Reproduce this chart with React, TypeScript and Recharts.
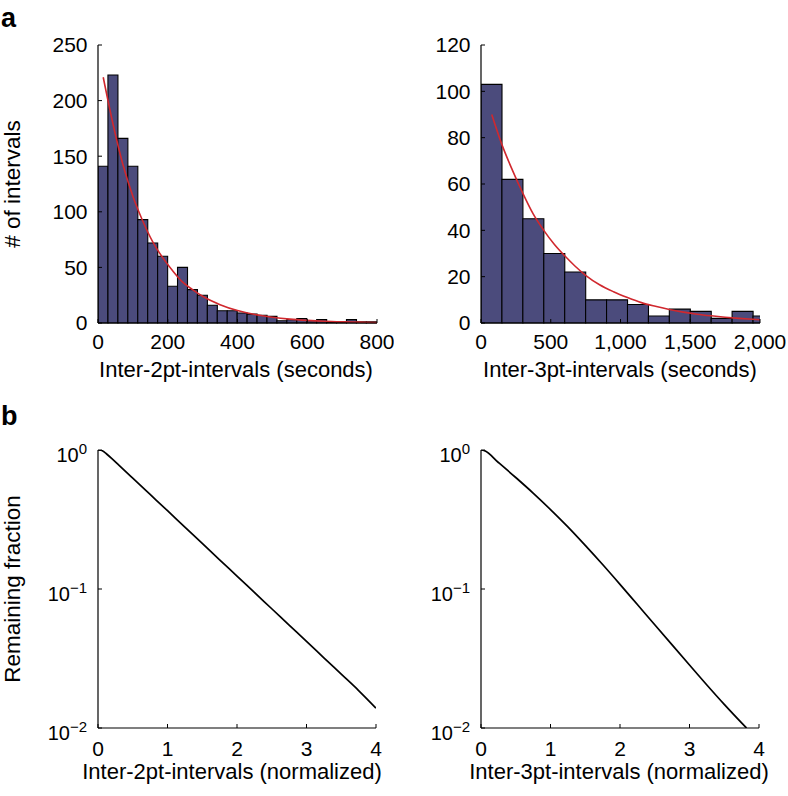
import React from 'react';
import { ComposedChart, LineChart, Bar, Line, XAxis, YAxis } from 'recharts';

const FONT = '"Liberation Sans", Arial, Helvetica, sans-serif';
const BAR_FILL = '#4b4b7c';
const FIT_RED = '#d0282e';

// ---- Panel a, left: inter-2pt-intervals histogram (seconds) ----
const BIN_2PT = 28.5;
const counts2pt = [141, 223, 166, 141, 93, 72, 60, 33, 50, 30, 25, 16, 11, 11, 9, 8, 7, 6, 2, 3, 4, 2, 3, 1, 1, 3, 1, 1];
const fit2ptX = [15, 43, 71, 100, 128, 157, 185, 214, 242, 271, 300, 350, 400, 450, 500, 550, 600, 650, 700, 750, 800];
const fit2ptY = [221, 179, 143, 114, 92, 73, 59, 47, 37, 30, 24, 16.5, 11.2, 7.6, 5.2, 3.5, 2.4, 1.6, 1.1, 0.75, 0.5];
const xTicks2pt = [0, 200, 400, 600, 800];
const yTicks2pt = [0, 50, 100, 150, 200, 250];

// ---- Panel a, right: inter-3pt-intervals histogram (seconds) ----
const BIN_3PT = 150;
const counts3pt = [103, 62, 45, 30, 22, 10, 10, 8, 3, 6, 5, 2, 5, 3];
const fit3ptX = [77, 150, 225, 300, 375, 450, 525, 600, 675, 750, 850, 950, 1050, 1150, 1250, 1350, 1450, 1550, 1650, 1750, 1850, 1950, 2000];
const fit3ptY = [90, 77, 66, 56, 47, 40, 34, 29, 24.5, 20.6, 16.5, 13.5, 11, 8.8, 7.2, 5.8, 4.7, 3.8, 3.1, 2.5, 2, 1.6, 1.4];
const xTicks3pt = [0, 500, 1000, 1500, 2000];
const yTicks3pt = [0, 20, 40, 60, 80, 100, 120];

// ---- Panel b: remaining fraction (normalized) ----
const surv2ptX = [0, 0.04, 0.08, 0.12, 0.2, 0.3, 0.5, 0.75, 1, 1.25, 1.5, 1.75, 2, 2.25, 2.5, 2.75, 3, 3.25, 3.5, 3.75, 4];
const surv2ptY = [1.0, 0.997, 0.975, 0.94, 0.867, 0.778, 0.627, 0.479, 0.366, 0.279, 0.213, 0.162, 0.124, 0.0944, 0.0721, 0.055, 0.042, 0.032, 0.0244, 0.0186, 0.0139];
const surv3ptX = [0, 0.05, 0.25, 0.5, 0.75, 1, 1.25, 1.5, 1.75, 2, 2.25, 2.5, 2.75, 3, 3.25, 3.5, 3.82];
const surv3ptY = [1.0, 0.989, 0.813, 0.634, 0.49, 0.373, 0.28, 0.206, 0.15, 0.108, 0.0773, 0.0553, 0.0396, 0.0284, 0.0204, 0.0148, 0.01];
const xTicksNorm = [0, 1, 2, 3, 4];
const yTicksLog = [0.01, 0.1, 1];
const yMinorLog = [0.02, 0.03, 0.04, 0.05, 0.06, 0.07, 0.08, 0.09, 0.2, 0.3, 0.4, 0.5, 0.6, 0.7, 0.8, 0.9];

const hist2pt = counts2pt.map((c, i) => ({ x: (i + 0.5) * BIN_2PT, count: c }));
const hist3pt = counts3pt.map((c, i) => ({ x: (i + 0.5) * BIN_3PT, count: c }));
const fit2pt = fit2ptX.map((x, i) => ({ x, y: fit2ptY[i] }));
const fit3pt = fit3ptX.map((x, i) => ({ x, y: fit3ptY[i] }));
const surv2pt = surv2ptX.map((x, i) => ({ x, y: surv2ptY[i] }));
const surv3pt = surv3ptX.map((x, i) => ({ x, y: surv3ptY[i] }));

const tickStyle = { fontSize: 21, fill: '#000', fontFamily: FONT };
const axisLine = { stroke: '#000', strokeWidth: 1.2 };
const tickLine = { stroke: '#000', strokeWidth: 1 };

const fmtThousands = (v: number) => v.toLocaleString('en-US');

const LogTick = (props: any) => {
  const { x, y, payload } = props;
  const exp = Math.round(Math.log10(payload.value));
  const sup = exp === 0 ? '0' : '\u2212' + Math.abs(exp);
  return (
    <text x={x} y={y + 12} textAnchor="end" fontSize={20} fill="#000" fontFamily={FONT}>
      10
      <tspan dy={-8} fontSize={15}>{sup}</tspan>
    </text>
  );
};

function Histogram(props: {
  data: any[]; fit: any[]; xMax: number; xTicks: number[]; yMax: number; yTicks: number[];
  yAxisWidth: number; right: number; fmt?: (v: number) => string;
}) {
  const { data, fit, xMax, xTicks, yMax, yTicks, yAxisWidth, right, fmt } = props;
  return (
    <ComposedChart width={394} height={398} data={data} barCategoryGap={0} barGap={0}
      margin={{ top: 45, right, bottom: 45, left: 0 }}>
      <XAxis dataKey="x" type="number" domain={[0, xMax]} ticks={xTicks} allowDataOverflow interval={0}
        height={30} tickSize={-4} tickMargin={15} tick={tickStyle} axisLine={axisLine} tickLine={tickLine}
        tickFormatter={fmt} />
      <XAxis xAxisId="fit" dataKey="x" type="number" domain={[0, xMax]} allowDataOverflow hide />
      <YAxis type="number" domain={[0, yMax]} ticks={yTicks} interval={0} width={yAxisWidth}
        tickSize={-4} tickMargin={14.5} tick={tickStyle} axisLine={axisLine} tickLine={tickLine} />
      <Bar dataKey="count" fill={BAR_FILL} stroke="#000" strokeWidth={1.1} isAnimationActive={false} />
      <Line data={fit} xAxisId="fit" dataKey="y" type="monotone" stroke={FIT_RED} strokeWidth={1.6}
        dot={false} activeDot={false} isAnimationActive={false} />
    </ComposedChart>
  );
}

function Survival(props: { data: any[]; yAxisWidth: number; right: number }) {
  const { data, yAxisWidth, right } = props;
  return (
    <LineChart width={394} height={398} data={data} margin={{ top: 52, right, bottom: 38, left: 0 }}>
      <XAxis dataKey="x" type="number" domain={[0, 4]} ticks={xTicksNorm} allowDataOverflow interval={0}
        height={30} tickSize={-4} tickMargin={17} tick={tickStyle} axisLine={axisLine} tickLine={tickLine} />
      <YAxis type="number" scale="log" domain={[0.01, 1]} ticks={yTicksLog} allowDataOverflow interval={0}
        width={yAxisWidth} tickSize={-4} tickMargin={15} tick={<LogTick />} axisLine={axisLine} tickLine={tickLine} />
      <YAxis yAxisId="minor" type="number" scale="log" domain={[0.01, 1]} ticks={yMinorLog} allowDataOverflow
        interval={0} mirror tick={false} axisLine={false} tickSize={2.5} tickLine={{ stroke: '#000', strokeWidth: 0.8 }} />
      <Line dataKey="y" type="monotone" stroke="#000" strokeWidth={1.7} dot={false} activeDot={false}
        isAnimationActive={false} />
    </LineChart>
  );
}

export default function App() {
  const txt = { fontFamily: FONT, fill: '#000' };
  return (
    <div style={{ position: 'absolute', left: 0, top: 0, width: 788, height: 796, background: '#fff', fontFamily: FONT }}>
      <div style={{ position: 'absolute', left: 0, top: 0 }}>
        <Histogram data={hist2pt} fit={fit2pt} xMax={800} xTicks={xTicks2pt} yMax={250} yTicks={yTicks2pt}
          yAxisWidth={98} right={17} />
      </div>
      <div style={{ position: 'absolute', left: 394, top: 0 }}>
        <Histogram data={hist3pt} fit={fit3pt} xMax={2000} xTicks={xTicks3pt} yMax={120} yTicks={yTicks3pt}
          yAxisWidth={87} right={28} fmt={fmtThousands} />
      </div>
      <div style={{ position: 'absolute', left: 0, top: 398 }}>
        <Survival data={surv2pt} yAxisWidth={98} right={18} />
      </div>
      <div style={{ position: 'absolute', left: 394, top: 398 }}>
        <Survival data={surv3pt} yAxisWidth={87} right={29} />
      </div>
      <svg width={788} height={796} style={{ position: 'absolute', left: 0, top: 0, pointerEvents: 'none' }}>
        <text x={1} y={27} fontSize={27} fontWeight="bold" {...txt}>a</text>
        <text x={1} y={425} fontSize={27} fontWeight="bold" {...txt}>b</text>
        <text transform="translate(20,184) rotate(-90)" textAnchor="middle" fontSize={22.5} {...txt}># of intervals</text>
        <text transform="translate(20,589) rotate(-90)" textAnchor="middle" fontSize={22.5} {...txt}>Remaining fraction</text>
        <text x={236} y={377} textAnchor="middle" fontSize={22} {...txt}>Inter-2pt-intervals (seconds)</text>
        <text x={620} y={377} textAnchor="middle" fontSize={22} {...txt}>Inter-3pt-intervals (seconds)</text>
        <text x={232} y={779} textAnchor="middle" fontSize={22} {...txt}>Inter-2pt-intervals (normalized)</text>
        <text x={619} y={779} textAnchor="middle" fontSize={22} {...txt}>Inter-3pt-intervals (normalized)</text>
      </svg>
    </div>
  );
}
